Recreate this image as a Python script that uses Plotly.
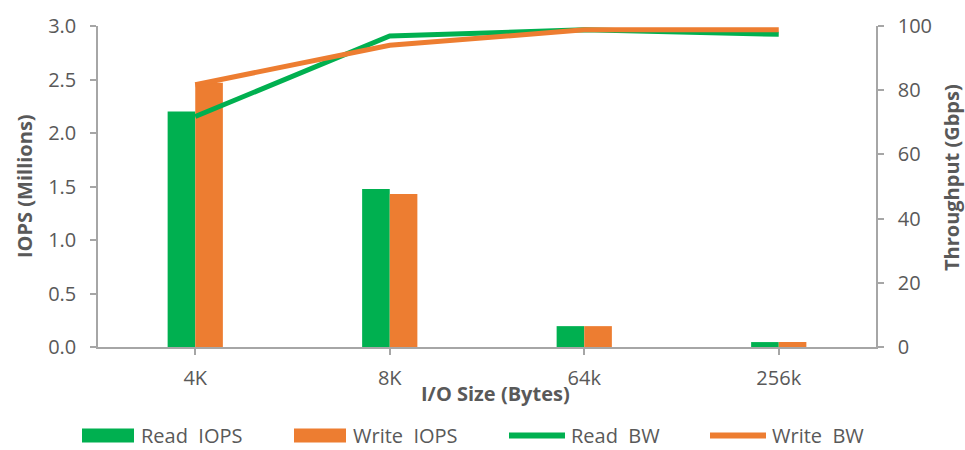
import plotly.graph_objects as go

categories = ["4K", "8K", "64k", "256k"]
read_iops = [2.20, 1.477, 0.195, 0.046]
write_iops = [2.47, 1.43, 0.195, 0.047]
read_bw = [71.8, 96.9, 98.8, 97.4]
write_bw = [81.7, 94.0, 98.8, 98.8]

GREEN = "#00B050"
ORANGE = "#ED7D31"
TEXT = "#595959"
AXIS = "#A6A6A6"
FONT = "Open Sans, sans-serif"

# plot area in pixels: x 98..876, y 24..347
W, H = 965, 450
ML, MR, MT, MB = 98, 89, 24, 103
PW = W - ML - MR
PH = H - MT - MB


def px(xp):
    return (xp - ML) / PW


def py(yp):
    return (H - MB - yp) / PH


x = list(range(len(categories)))
bw = 0.142

fig = go.Figure()
fig.add_trace(go.Bar(x=x, y=read_iops, name="Read  IOPS", marker_color=GREEN,
                     width=bw, offset=-bw, marker_line_width=0))
fig.add_trace(go.Bar(x=x, y=write_iops, name="Write  IOPS", marker_color=ORANGE,
                     width=bw, offset=0, marker_line_width=0))
fig.add_trace(go.Scatter(x=x, y=read_bw, name="Read  BW", mode="lines",
                         line=dict(color=GREEN, width=5), yaxis="y2"))
fig.add_trace(go.Scatter(x=x, y=write_bw, name="Write  BW", mode="lines",
                         line=dict(color=ORANGE, width=5), yaxis="y2"))

axis_common = dict(showline=True, linecolor=AXIS, linewidth=1.5,
                   ticks="outside", ticklen=6, tickcolor=AXIS, tickwidth=1.5,
                   showgrid=False, zeroline=False,
                   tickfont=dict(size=20, color=TEXT, family=FONT))

fig.update_layout(
    width=W, height=H,
    margin=dict(l=ML, r=MR, t=MT, b=MB),
    plot_bgcolor="white", paper_bgcolor="white",
    font=dict(family=FONT, color=TEXT, size=20),
    barmode="overlay",
    showlegend=False,
    xaxis=dict(range=[-0.5, 3.5], tickvals=x, ticktext=categories,
               ticklabelstandoff=6, **axis_common),
    yaxis=dict(range=[0, 3.0], tickvals=[0, 0.5, 1.0, 1.5, 2.0, 2.5, 3.0],
               tickformat=".1f", ticklabelstandoff=10, **axis_common),
    yaxis2=dict(range=[0, 100], tickvals=[0, 20, 40, 60, 80, 100],
                overlaying="y", side="right", ticklabelstandoff=10, **axis_common),
)

# axis titles
title_font = dict(family=FONT, size=20, color=TEXT)
fig.add_annotation(text="<b>IOPS (Millions)</b>", xref="paper", yref="paper",
                   x=px(24), y=py(185), textangle=-90, showarrow=False,
                   xanchor="center", yanchor="middle", font=title_font)
fig.add_annotation(text="<b>Throughput (Gbps)</b>", xref="paper", yref="paper",
                   x=px(951), y=py(176), textangle=-90, showarrow=False,
                   xanchor="center", yanchor="middle", font=title_font)
fig.add_annotation(text="<b>I/O Size (Bytes)</b>", xref="paper", yref="paper",
                   x=px(496), y=py(394), showarrow=False,
                   xanchor="center", yanchor="middle", font=title_font)

# legend row
legend_font = dict(family=FONT, size=20, color=TEXT)
LEG_Y = 436
legend_items = [
    ("Read\u00a0\u00a0IOPS", GREEN, "rect", 82, 134, 139),
    ("Write\u00a0\u00a0IOPS", ORANGE, "rect", 294, 346, 351),
    ("Read\u00a0\u00a0BW", GREEN, "line", 509, 565, 569),
    ("Write\u00a0\u00a0BW", ORANGE, "line", 710, 766, 770),
]
for label, color, kind, x0, x1, xt in legend_items:
    if kind == "rect":
        fig.add_shape(type="rect", xref="paper", yref="paper",
                      x0=px(x0), x1=px(x1), y0=py(LEG_Y + 7), y1=py(LEG_Y - 7),
                      fillcolor=color, line_width=0)
    else:
        fig.add_shape(type="line", xref="paper", yref="paper",
                      x0=px(x0), x1=px(x1), y0=py(LEG_Y), y1=py(LEG_Y),
                      line=dict(color=color, width=6))
    fig.add_annotation(text=label, xref="paper", yref="paper",
                       x=px(xt), y=py(LEG_Y), showarrow=False,
                       xanchor="left", yanchor="middle", font=legend_font)

fig.write_html("out.html")
